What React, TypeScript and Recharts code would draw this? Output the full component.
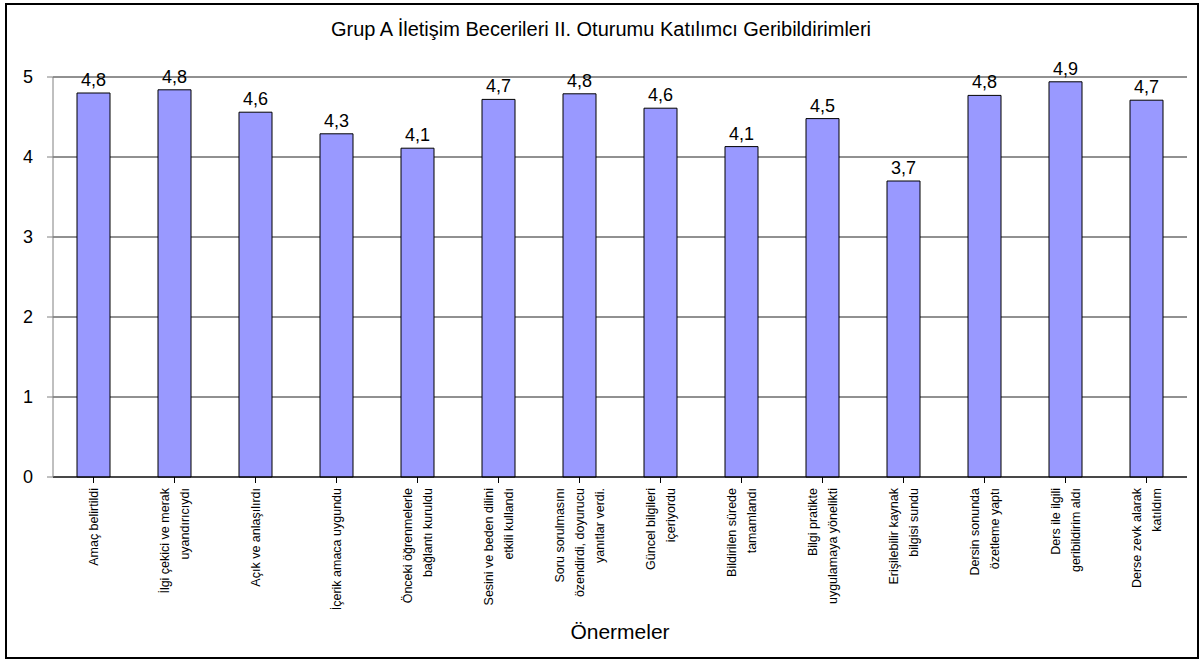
import { BarChart, Bar, XAxis, YAxis, CartesianGrid, LabelList } from 'recharts';

const categories: string[][] = [
  ['Amaç belirtildi'],
  ['İlgi çekici ve merak', 'uyandırıcıydı'],
  ['Açık ve anlaşılırdı'],
  ['İçerik amaca uygundu'],
  ['Önceki öğrenmelerle', 'bağlantı kuruldu'],
  ['Sesini ve beden dilini', 'etkili kullandı'],
  ['Soru sorulmasını', 'özendirdi, doyurucu', 'yanıtlar verdi.'],
  ['Güncel bilgileri', 'içeriyordu'],
  ['Bildirilen sürede', 'tamamlandı'],
  ['Bilgi pratikte', 'uygulamaya yönelikti'],
  ['Erişilebilir kaynak', 'bilgisi sundu'],
  ['Dersin sonunda', 'özetleme yaptı'],
  ['Ders ile ilgili', 'geribildirim aldı'],
  ['Derse zevk alarak', 'katıldım'],
];

const scores = [4.8, 4.84, 4.56, 4.29, 4.11, 4.72, 4.79, 4.61, 4.13, 4.48, 3.7, 4.77, 4.94, 4.71];

const yTicks = [0, 1, 2, 3, 4, 5];

const data = categories.map((lines, i) => ({ name: lines.join(' '), idx: i, value: scores[i] }));

const FONT = '"Liberation Sans", Arial, sans-serif';

function CategoryTick(props: any) {
  const { x, y, index } = props;
  const lines = categories[index] || [];
  const n = lines.length;
  return (
    <g transform={`translate(${x},${y}) rotate(-90)`}>
      {lines.map((line, i) => (
        <text
          key={i}
          x={0}
          y={(i - (n - 1) / 2) * 20}
          dy="0.35em"
          textAnchor="end"
          fontSize={12.5}
          fontFamily={FONT}
          fill="#000"
        >
          {line}
        </text>
      ))}
    </g>
  );
}

const fmt = (v: any) => Number(v).toFixed(1).replace('.', ',');

export default function App() {
  return (
    <div style={{ position: 'absolute', left: 0, top: 0, width: 1202, height: 662, background: '#fff' }}>
      <div
        style={{
          position: 'absolute',
          left: 5,
          top: 3,
          width: 1190,
          height: 652,
          border: '2px solid #000',
        }}
      />
      <div
        style={{
          position: 'absolute',
          left: 0,
          top: 18,
          width: 1202,
          textAlign: 'center',
          fontFamily: FONT,
          fontSize: 20,
          lineHeight: '22px',
        }}
      >
        Grup A İletişim Becerileri II. Oturumu Katılımcı Geribildirimleri
      </div>
      <div style={{ position: 'absolute', left: 0, top: 0 }}>
        <BarChart
          width={1202}
          height={662}
          data={data}
          margin={{ top: 77, right: 15, bottom: 35, left: 13 }}
          barSize={33}
        >
          <CartesianGrid vertical={false} stroke="#222" />
          <XAxis
            dataKey="name"
            interval={0}
            height={150}
            stroke="#000"
            tickSize={6}
            tickMargin={5}
            tick={<CategoryTick />}
            label={{
              value: 'Önermeler',
              position: 'insideBottom',
              offset: -12,
              fontSize: 21,
              fontFamily: FONT,
              fill: '#000',
            }}
          />
          <YAxis
            width={40}
            domain={[0, 5]}
            ticks={yTicks}
            interval={0}
            stroke="#808080"
            tickSize={6}
            tickMargin={14}
            tick={{ fontSize: 18, fontFamily: FONT, fill: '#000' }}
          />
          <Bar dataKey="value" fill="#9999FF" stroke="#000" strokeWidth={1} isAnimationActive={false}>
            <LabelList
              dataKey="value"
              position="top"
              offset={7}
              formatter={fmt}
              style={{ fontSize: 18, fontFamily: FONT, fill: '#000' }}
            />
          </Bar>
        </BarChart>
      </div>
    </div>
  );
}
